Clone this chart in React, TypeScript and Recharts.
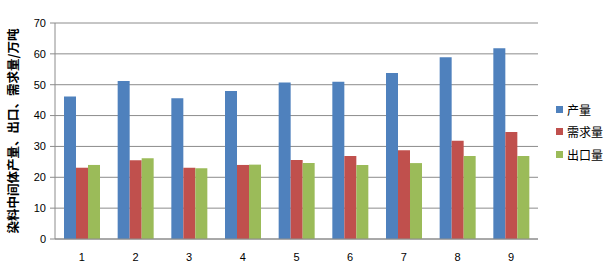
import { BarChart, Bar, XAxis, YAxis, CartesianGrid } from 'recharts';

const categories = ['1', '2', '3', '4', '5', '6', '7', '8', '9'];
const output = [46.2, 51.2, 45.6, 48.0, 50.7, 51.0, 53.8, 58.9, 61.8];
const demand = [23.1, 25.5, 23.1, 24.0, 25.6, 26.9, 28.8, 31.8, 34.7];
const exports = [24.0, 26.2, 22.9, 24.1, 24.6, 24.0, 24.6, 26.9, 26.9];
const yTicks = [0, 10, 20, 30, 40, 50, 60, 70];

const SERIES = [
    { key: 'output', name: '产量', color: '#4F81BD' },
    { key: 'demand', name: '需求量', color: '#C0504D' },
    { key: 'exports', name: '出口量', color: '#9BBB59' },
];

const data = categories.map((c, i) => ({
    name: c,
    output: output[i],
    demand: demand[i],
    exports: exports[i],
}));

const FONT = '"Liberation Sans", "Noto Sans CJK SC", sans-serif';

function LegendBox() {
    return (
        <div
            style={{
                position: 'absolute',
                left: 556,
                top: 98,
                fontFamily: '"Noto Sans CJK SC", sans-serif',
                fontSize: 12,
                color: '#000',
            }}
        >
            {SERIES.map((s) => (
                <div key={s.key} style={{ display: 'flex', alignItems: 'center', height: 22.5 }}>
                    <span style={{ width: 7, height: 7, background: s.color, marginRight: 4 }} />
                    <span>{s.name}</span>
                </div>
            ))}
        </div>
    );
}

export default function App() {
    return (
        <div style={{ position: 'absolute', left: 0, top: 0, width: 606, height: 267, background: '#fff' }}>
            <BarChart
                width={606}
                height={267}
                data={data}
                margin={{ top: 23, right: 68, bottom: 0, left: 0 }}
                barGap={0}
                barSize={12}
            >
                <CartesianGrid vertical={false} stroke='#8c8c8c' />
                <XAxis
                    dataKey='name'
                    height={28}
                    tickLine={false}
                    axisLine={{ stroke: '#8c8c8c' }}
                    tick={{ fill: '#000', fontSize: 11, fontFamily: FONT }}
                    tickMargin={8}
                />
                <YAxis
                    width={55}
                    domain={[0, 70]}
                    ticks={yTicks}
                    interval={0}
                    tickSize={5}
                    tickMargin={4}
                    axisLine={{ stroke: '#8c8c8c' }}
                    tickLine={{ stroke: '#8c8c8c' }}
                    tick={{ fill: '#000', fontSize: 11, fontFamily: FONT }}
                    label={{
                        value: '染料中间体产量、出口、需求量/万吨',
                        angle: -90,
                        position: 'insideLeft',
                        offset: 14,
                        style: {
                            textAnchor: 'middle',
                            fontSize: 12.5,
                            fontWeight: 'bold',
                            fill: '#000',
                            fontFamily: '"Noto Sans CJK SC", sans-serif',
                        },
                    }}
                />
                {SERIES.map((s) => (
                    <Bar
                        key={s.key}
                        dataKey={s.key}
                        name={s.name}
                        fill={s.color}
                        isAnimationActive={false}
                    />
                ))}
            </BarChart>
            <LegendBox />
        </div>
    );
}
